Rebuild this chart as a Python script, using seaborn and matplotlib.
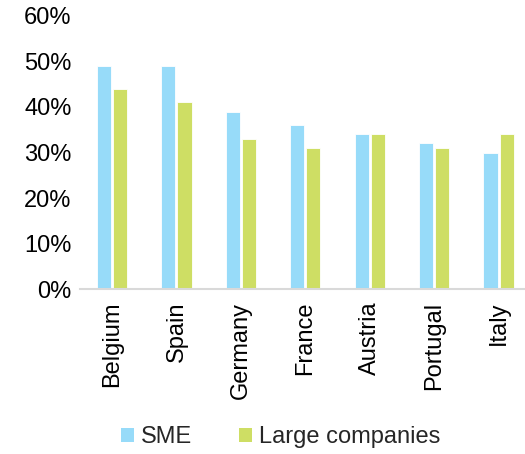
import pandas as pd
import numpy as np
import seaborn as sns
import matplotlib.pyplot as plt
from matplotlib.ticker import PercentFormatter
from matplotlib.patches import Patch

countries = ['Belgium', 'Spain', 'Germany', 'France', 'Austria', 'Portugal', 'Italy']
sme = [0.49, 0.49, 0.39, 0.36, 0.34, 0.32, 0.30]
large = [0.44, 0.41, 0.33, 0.31, 0.34, 0.31, 0.34]
series_names = ['SME', 'Large companies']
colours = ['#97dbf9', '#cede64']

# long format for seaborn
df = pd.DataFrame({'country': countries * 2,
                   'share': sme + large,
                   'group': [series_names[0]] * len(countries) + [series_names[1]] * len(countries)})

sns.set_style('white')
plt.rcParams['font.family'] = ['Liberation Sans', 'DejaVu Sans']

fig = plt.figure(figsize=(5.25, 4.54), dpi=100)
ax = fig.add_axes([0.152, 0.363, 0.859, 0.602])

sns.barplot(data=df, x='country', y='share', hue='group', palette=colours, saturation=1,
            width=0.5, gap=0.12, edgecolor='white', linewidth=0.6, ax=ax, legend=False)

ax.set_ylim(0, 0.6)
ax.set_xlim(-0.5, 6.5)
ax.yaxis.set_major_formatter(PercentFormatter(1.0, decimals=0))
ax.set_yticks(np.arange(0, 0.61, 0.1))
ax.set_xlabel('')
ax.set_ylabel('')
ax.tick_params(axis='both', length=0, labelsize=17, colors='black')
ax.tick_params(axis='x', pad=9)
plt.setp(ax.get_xticklabels(), rotation=90)
ax.tick_params(axis='y', pad=6)

for side in ['left', 'right', 'top']:
    ax.spines[side].set_visible(False)
ax.spines['bottom'].set_color('#d9d9d9')
ax.spines['bottom'].set_linewidth(1.5)

handles = [Patch(facecolor=c, edgecolor='none') for c in colours]
fig.legend(handles, series_names, loc='center', bbox_to_anchor=(0.535, 0.037), ncol=2,
           frameon=False, fontsize=17, handlelength=0.55, handleheight=0.55,
           handletextpad=0.3, columnspacing=2.0)

fig.savefig('out.png', dpi=100)
